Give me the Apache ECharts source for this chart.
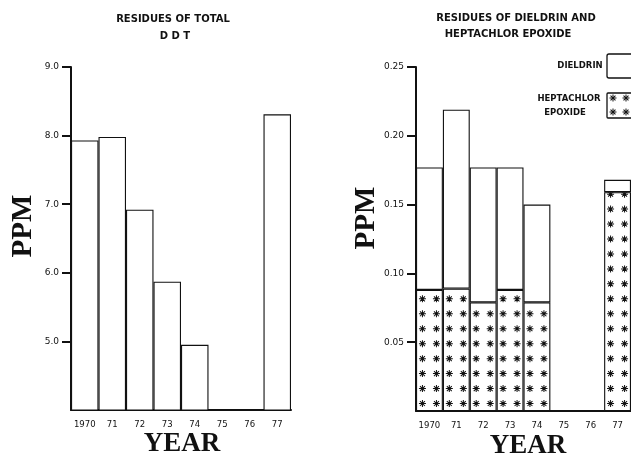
<!DOCTYPE html>
<html><head><meta charset="utf-8">
<script src="https://cdn.jsdelivr.net/npm/echarts@6/dist/echarts.min.js"></script>
<style>html,body{margin:0;padding:0;background:#fff}#c{width:631px;height:456px}</style>
</head><body><div id="c"></div>
<script>
const years = ['1970', '71', '72', '73', '74', '75', '76', '77'];
const ddt = [7.93, 7.98, 6.92, 5.87, 4.95, null, null, 8.31];
const heptachlor = [0.088, 0.089, 0.079, 0.088, 0.079, null, null, 0.159];
const dieldrin = [0.089, 0.130, 0.098, 0.089, 0.071, null, null, 0.009];
const ddtTicks = [5, 6, 7, 8, 9];
const residueTicks = [0.05, 0.10, 0.15, 0.20, 0.25];

function asteriskArms(cx, cy, r, w) {
  return [0, 45, 90, 135].map(function (deg) {
    const a = deg * Math.PI / 180, c = Math.cos(a), sn = Math.sin(a);
    const px = -sn * w, py = c * w;
    return [
      [cx + c * r + px, cy + sn * r + py],
      [cx - c * r + px, cy - sn * r + py],
      [cx - c * r - px, cy - sn * r - py],
      [cx + c * r - px, cy + sn * r - py]
    ];
  });
}
function asterisk(cx, cy, r, w) {
  return asteriskArms(cx, cy, r, w).map(pts =>
    'M' + pts.map(p => p[0].toFixed(2) + ',' + p[1].toFixed(2)).join('L') + 'Z').join('');
}
const pairPath = asterisk(3.5, 3.5, 3.5, 0.5) + asterisk(17.5, 3.5, 3.5, 0.5);

const black = '#111';
const xTickFont = { color: black, fontSize: 8.5, fontFamily: 'DejaVu Sans' };
const yTickFont = { color: black, fontSize: 9, fontFamily: 'DejaVu Sans' };

function txt(x, y, text, font, opts) {
  return Object.assign({
    type: 'text', x: x, y: y,
    style: { text: text, font: font, fill: black, align: 'center', textAlign: 'center', verticalAlign: 'middle', textVerticalAlign: 'middle' }
  }, opts || {});
}
const titleFont = 'bold 10px "DejaVu Sans"';
const bigFont = 'bold 27px "Liberation Serif"';
const ppmFont = 'bold 29px "Liberation Serif"';
const legendFont = 'bold 8.5px "DejaVu Sans"';

const legendStars = [];
[[613, 98], [626, 98], [613, 112], [626, 112]].forEach(function (c) {
  asteriskArms(c[0], c[1], 3.5, 0.5).forEach(function (pts) {
    legendStars.push({ type: 'polygon', shape: { points: pts }, style: { fill: black } });
  });
});

const barStyle = { color: '#fff', borderColor: black, borderWidth: 1.1 };

const chart = echarts.init(document.getElementById('c'), null, { renderer: 'canvas' });
chart.setOption({
  backgroundColor: '#fff',
  animation: false,
  grid: [
    { left: 71, top: 67, width: 220, height: 343 },
    { left: 416, top: 67, width: 218, height: 344 }
  ],
  xAxis: [0, 1].map(i => ({
    gridIndex: i, type: 'category', data: years,
    axisLine: { lineStyle: { color: black, width: 2 } },
    axisTick: { alignWithLabel: true, length: 8, lineStyle: { color: black, width: 1.5 } },
    axisLabel: Object.assign({ margin: 10, interval: 0 }, xTickFont),
    splitLine: { show: false }
  })),
  yAxis: [
    {
      gridIndex: 0, type: 'value', min: 4, max: 9, interval: 1,
      axisLine: { show: true, lineStyle: { color: black, width: 2 } },
      axisTick: { show: true, customValues: ddtTicks, length: 9, lineStyle: { color: black, width: 2 } },
      axisLabel: Object.assign({ customValues: ddtTicks, margin: 12, formatter: v => v.toFixed(1) }, yTickFont),
      splitLine: { show: false }
    },
    {
      gridIndex: 1, type: 'value', min: 0, max: 0.25, interval: 0.05,
      axisLine: { show: true, lineStyle: { color: black, width: 2 } },
      axisTick: { show: true, customValues: residueTicks, length: 9, lineStyle: { color: black, width: 2 } },
      axisLabel: Object.assign({ customValues: residueTicks, margin: 12, formatter: v => v.toFixed(2) }, yTickFont),
      splitLine: { show: false }
    }
  ],
  series: [
    {
      name: 'TOTAL DDT', type: 'bar', xAxisIndex: 0, yAxisIndex: 0, data: ddt, barWidth: '100%',
      itemStyle: barStyle
    },
    {
      name: 'HEPTACHLOR EPOXIDE', type: 'bar', xAxisIndex: 1, yAxisIndex: 1, stack: 'r', data: heptachlor, barWidth: '100%',
      itemStyle: barStyle
    },
    {
      name: 'DIELDRIN', type: 'bar', xAxisIndex: 1, yAxisIndex: 1, stack: 'r', data: dieldrin, barWidth: '100%',
      itemStyle: barStyle
    },
    {
      name: 'HEPTACHLOR pattern', type: 'pictorialBar', xAxisIndex: 1, yAxisIndex: 1, data: heptachlor,
      symbol: 'path://' + pairPath, symbolSize: [21, 7], symbolRepeat: true, symbolMargin: '4!',
      symbolClip: true, symbolBoundingData: 0.25, z: 5,
      itemStyle: { color: black }
    }
  ],
  graphic: [
    txt(173, 19, 'RESIDUES OF TOTAL', titleFont),
    txt(175, 36, 'D D T', titleFont),
    txt(516, 18, 'RESIDUES OF DIELDRIN AND', titleFont),
    txt(508, 34, 'HEPTACHLOR EPOXIDE', titleFont),
    txt(24, 226, 'PPM', ppmFont, { rotation: Math.PI / 2 }),
    txt(367, 218, 'PPM', ppmFont, { rotation: Math.PI / 2 }),
    txt(182, 444, 'YEAR', bigFont),
    txt(528, 446, 'YEAR', bigFont),
    { type: 'rect', shape: { x: 607, y: 54, width: 40, height: 24, r: 2 }, style: { fill: '#fff', stroke: black, lineWidth: 1.3 } },
    { type: 'rect', shape: { x: 607, y: 93, width: 40, height: 25, r: 1 }, style: { fill: '#fff', stroke: black, lineWidth: 1.3 } },
    txt(580, 66, 'DIELDRIN', legendFont),
    txt(569, 99, 'HEPTACHLOR', legendFont),
    txt(565, 113, 'EPOXIDE', legendFont)
  ].concat(legendStars)
});
</script>
</body></html>
